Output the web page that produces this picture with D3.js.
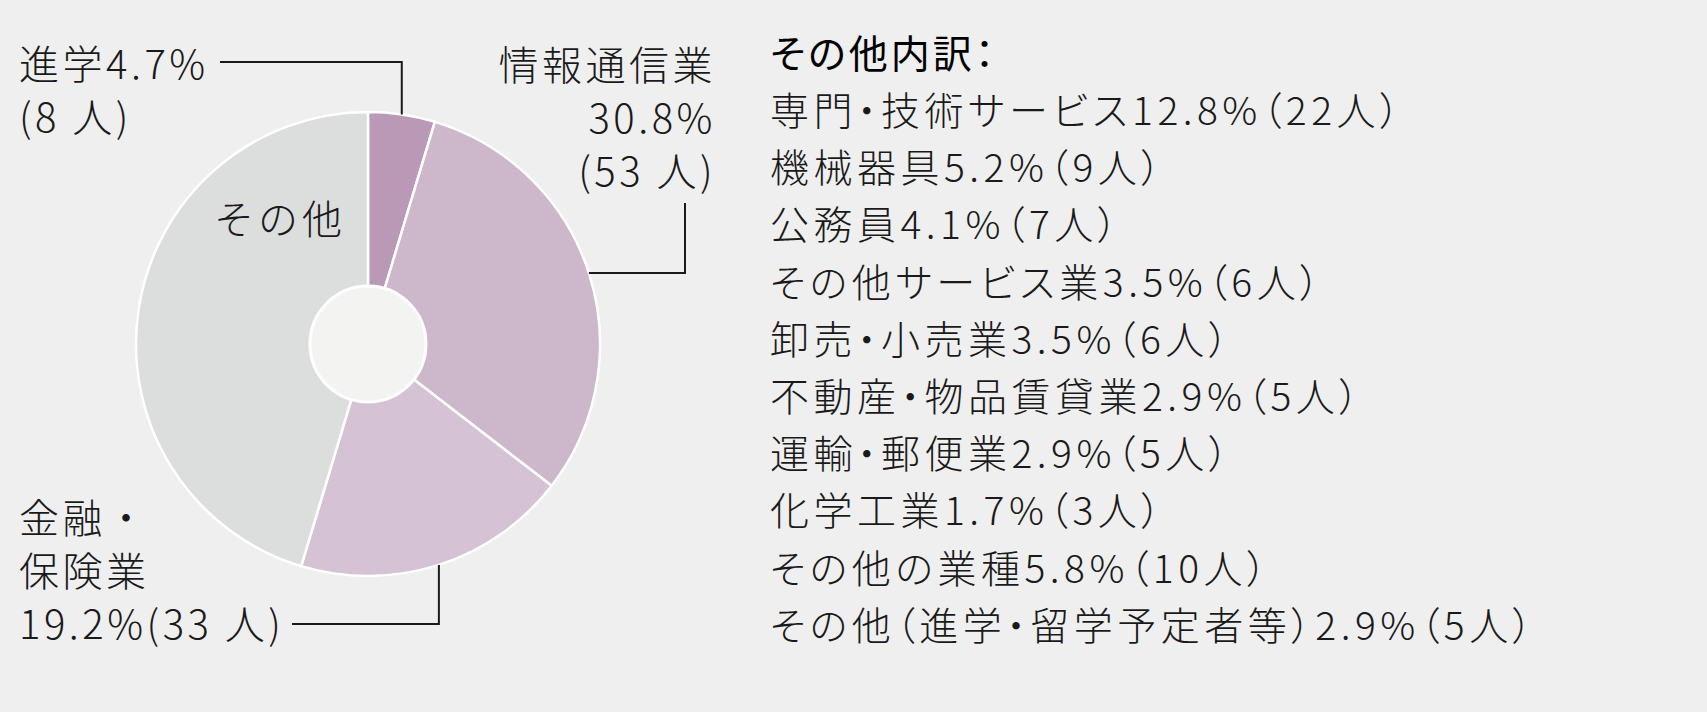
<!DOCTYPE html>
<html>
<head>
<meta charset="utf-8">
<script src="https://cdn.jsdelivr.net/npm/d3@7"></script>
<style>
  body { margin: 0; background: #efefef; }
  text { font-family: "Noto Sans CJK JP", "Noto Sans", sans-serif; fill: #1a1a1a; }
  .legend text { font-feature-settings: "palt"; }
</style>
</head>
<body>
<div class="canvas"></div>
<script>
// pie data (people)
const categories = ['進学', '情報通信業', '金融・保険業', 'その他'];
const counts = [8, 53, 33, 78];
const percents = [4.7, 30.8, 19.2, 45.3];
const colors = ['#b999b5', '#cdb8cb', '#d5c2d4', '#dcdedd'];

// breakdown of その他
const otherNames = ['専門・技術サービス', '機械器具', '公務員', 'その他サービス業', '卸売・小売業',
  '不動産・物品賃貸業', '運輸・郵便業', '化学工業', 'その他の業種', 'その他（進学・留学予定者等）'];
const otherPercents = ['12.8', '5.2', '4.1', '3.5', '3.5', '2.9', '2.9', '1.7', '5.8', '2.9'];
const otherCounts = [22, 9, 7, 6, 6, 5, 5, 3, 10, 5];

const width = 1707;
const height = 712;
const cx = 368, cy = 344;
const outerR = 232, innerR = 58;

const svg = d3.select('.canvas')
    .append('svg')
    .attr('width', width)
    .attr('height', height);

svg.append('rect')
    .attr('width', width)
    .attr('height', height)
    .attr('fill', '#efefef');

const graph = svg.append('g')
    .attr('transform', `translate(${cx},${cy})`);

const pie = d3.pie().sort(null).value(d => d);
const arc = d3.arc().innerRadius(0).outerRadius(outerR);
const arcs = pie(counts);

graph.selectAll('path')
    .data(arcs)
    .enter()
    .append('path')
    .attr('d', arc)
    .attr('fill', (d, i) => colors[i])
    .attr('stroke', '#fff')
    .attr('stroke-width', 2.5);

// hole
graph.append('circle')
    .attr('r', innerR)
    .attr('fill', '#f3f3f1')
    .attr('stroke', '#fff')
    .attr('stroke-width', 3);

// point on outer edge at the middle of a slice
const edge = d => {
    const a = (d.startAngle + d.endAngle) / 2;
    return [cx + outerR * Math.sin(a), cy - outerR * Math.cos(a)];
};

// leader lines (elbows)
const p0 = edge(arcs[0]), p1 = edge(arcs[1]), p2 = edge(arcs[2]);
const leaders = [
    [p0, [p0[0], 62], [220, 62]],
    [p1, [685, p1[1]], [685, 203]],
    [p2, [p2[0], 624], [292, 624]]
];
svg.selectAll('.leader')
    .data(leaders)
    .enter()
    .append('path')
    .attr('class', 'leader')
    .attr('d', d3.line())
    .attr('fill', 'none')
    .attr('stroke', '#1a1a1a')
    .attr('stroke-width', 2);

const label = (x, y, lines, anchor) => {
    const t = svg.append('text')
        .attr('x', x)
        .attr('y', y)
        .attr('text-anchor', anchor)
        .style('font-size', '40px')
        .style('font-weight', 300)
        .style('letter-spacing', '3.5px');
    lines.forEach((s, i) => {
        t.append('tspan')
            .attr('x', x)
            .attr('dy', i === 0 ? 0 : 53)
            .text(s);
    });
};

label(19, 79, [`${categories[0]}${percents[0]}%`, `(${counts[0]} 人)`], 'start');
label(716, 80, ['情報通信業', `${percents[1]}%`, `(${counts[1]} 人)`], 'end');
label(19, 533, ['金融・', '保険業', `${percents[2]}%(${counts[2]} 人)`], 'start');

svg.append('text')
    .attr('x', 214)
    .attr('y', 234)
    .style('font-size', '40px')
    .style('font-weight', 300)
    .style('letter-spacing', '4px')
    .text(categories[3]);

// その他 breakdown list
const legend = svg.append('g')
    .attr('class', 'legend')
    .attr('transform', 'translate(770,0)');

legend.append('text')
    .attr('y', 68)
    .style('font-size', '39px')
    .style('font-weight', 400)
    .style('letter-spacing', '3px')
    .style('fill', '#000')
    .text('その他内訳：');

const rowY = d3.scaleLinear().domain([0, 1]).range([125, 182.2]);

legend.selectAll('.row')
    .data(otherNames)
    .enter()
    .append('text')
    .attr('class', 'row')
    .attr('y', (d, i) => rowY(i))
    .style('font-size', '39px')
    .style('font-weight', 300)
    .style('letter-spacing', '4.5px')
    .text((d, i) => `${d}${otherPercents[i]}%（${otherCounts[i]}人）`);
</script>
</body>
</html>
